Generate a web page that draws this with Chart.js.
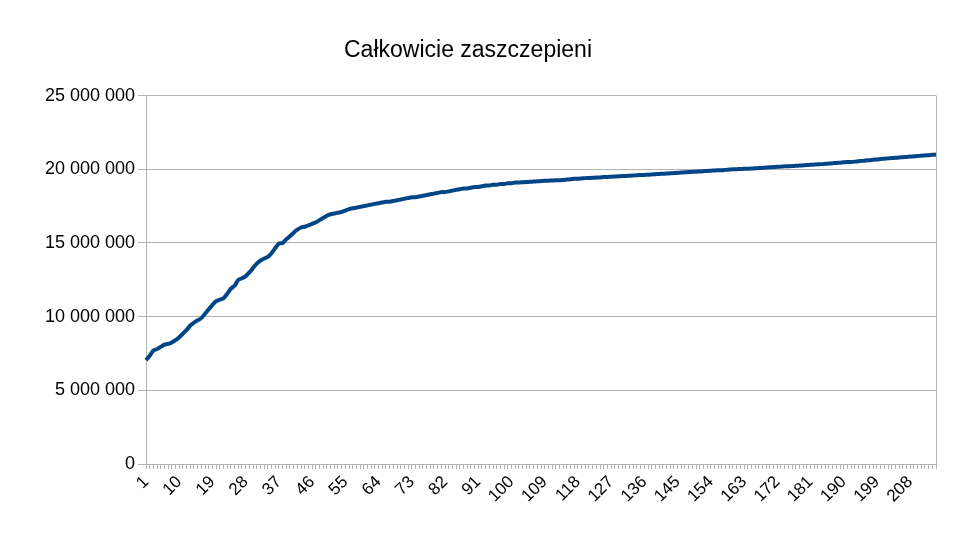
<!DOCTYPE html>
<html><head><meta charset="utf-8">
<script src="https://cdn.jsdelivr.net/npm/chart.js@4/dist/chart.umd.min.js"></script>
<style>html,body{margin:0;padding:0;background:#fff}#w{width:960px;height:534px}</style>
</head><body><div id="w"><canvas id="c"></canvas></div>
<script>
const valuesMillions = [
7.05,7.35,7.7,7.8,7.95,8.1,8.15,8.25,8.4,8.6,
8.85,9.1,9.4,9.6,9.75,9.9,10.2,10.5,10.8,11.05,
11.15,11.25,11.55,11.9,12.1,12.5,12.6,12.75,13.0,13.3,
13.6,13.8,13.95,14.05,14.3,14.65,14.95,15.0,15.25,15.45,
15.7,15.9,16.05,16.1,16.2,16.3,16.4,16.55,16.7,16.85,
16.95,17.0,17.05,17.1,17.2,17.3,17.35,17.4,17.45,17.5,
17.55,17.6,17.65,17.7,17.75,17.8,17.8,17.85,17.9,17.95,
18.0,18.05,18.1,18.1,18.15,18.2,18.25,18.3,18.35,18.4,
18.45,18.45,18.5,18.55,18.6,18.65,18.7,18.7,18.75,18.8,
18.8,18.85,18.9,18.9,18.95,18.95,19.0,19.0,19.05,19.05,
19.1,19.1,19.12,19.14,19.15,19.17,19.18,19.2,19.22,19.23,
19.24,19.25,19.25,19.28,19.3,19.32,19.35,19.36,19.38,19.4,
19.41,19.42,19.44,19.45,19.47,19.48,19.5,19.51,19.52,19.54,
19.55,19.56,19.58,19.6,19.61,19.62,19.63,19.65,19.67,19.68,
19.7,19.71,19.73,19.74,19.76,19.78,19.8,19.81,19.83,19.84,
19.85,19.87,19.89,19.9,19.92,19.93,19.94,19.96,19.98,20.0,
20.01,20.02,20.03,20.04,20.05,20.07,20.08,20.1,20.12,20.14,
20.15,20.17,20.18,20.2,20.21,20.22,20.24,20.25,20.27,20.29,
20.3,20.32,20.34,20.35,20.37,20.39,20.41,20.43,20.45,20.47,
20.49,20.5,20.52,20.55,20.57,20.6,20.62,20.65,20.67,20.7,
20.72,20.74,20.76,20.78,20.8,20.82,20.84,20.86,20.88,20.9,
20.92,20.94,20.96,20.98,21.0
];
const values = valuesMillions.map(v => Math.round(v * 1000000));
const categories = values.map((_, i) => String(i + 1));
const labelStep = 9;
const title = 'Całkowicie zaszczepieni';
const fmt = v => String(Math.round(v)).replace(/\B(?=(\d{3})+(?!\d))/g, ' ');
new Chart(document.getElementById('c'), {
  type: 'line',
  data: { labels: categories, datasets: [{ data: values, borderColor: '#004586', borderWidth: 4, pointRadius: 0, tension: 0.3, fill: false }] },
  options: {
    responsive: true, maintainAspectRatio: false, animation: false,
    layout: { padding: { left: 0, right: 24, top: 0, bottom: 0 } },
    plugins: {
      legend: { display: false }, tooltip: { enabled: false },
      title: { display: true, text: title, color: '#000', font: { family: 'Liberation Sans', size: 23, weight: 'normal' }, padding: { top: 37, bottom: 31 } }
    },
    scales: {
      x: {
        offset: false,
        afterFit: s => { s.height = 70; },
        grid: { display: true, drawOnChartArea: false, tickLength: 5, color: '#b3b3b3' },
        border: { color: '#b3b3b3' },
        ticks: { autoSkip: false, maxRotation: 45, minRotation: 45, color: '#000', font: { family: 'Liberation Sans', size: 17 },
          callback: (v, i) => (i % labelStep === 0 ? categories[i] : '') }
      },
      y: {
        min: 0, max: 25000000,
        afterFit: s => { s.width = 146; },
        grid: { color: '#b3b3b3', tickLength: 8 },
        border: { color: '#b3b3b3' },
        ticks: { stepSize: 5000000, color: '#000', font: { family: 'Liberation Sans', size: 18 }, callback: v => fmt(v) }
      }
    }
  },
  plugins: [{ id: 'rb', afterDraw(c) { const a = c.chartArea, x = c.ctx; x.save(); x.strokeStyle = '#b3b3b3'; x.lineWidth = 1; x.beginPath(); x.moveTo(a.right + 0.5, a.top); x.lineTo(a.right + 0.5, a.bottom); x.stroke(); x.restore(); } }]
});
</script></body></html>
